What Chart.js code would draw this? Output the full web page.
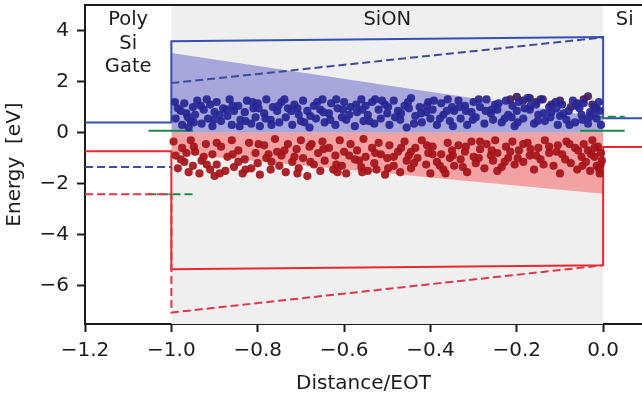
<!DOCTYPE html>
<html>
<head>
<meta charset="utf-8">
<script src="https://cdn.jsdelivr.net/npm/chart.js@4"></script>
<style>
html, body { margin: 0; padding: 0; background: #fff; }
</style>
</head>
<body>
<canvas id="myChart" width="642" height="396"></canvas>
<script>
// axis ticks
const xTicks = [-1.2, -1.0, -0.8, -0.6, -0.4, -0.2, 0.0];
const xTickLabels = ['\u22121.2', '\u22121.0', '\u22120.8', '\u22120.6', '\u22120.4', '\u22120.2', '0.0'];
const yTicks = [-6, -4, -2, 0, 2, 4];
const yTickLabels = ['\u22126', '\u22124', '\u22122', '0', '2', '4'];

// band edges (eV) along distance/EOT
const oxideRegion = [[-1.0, 5], [0.0, 5]];
const condBand = [[-1.2, 0.4], [-1.0, 0.4], [-1.0, 3.58], [0.0, 3.75], [0.0, 0.56], [0.09, 0.56]];
const valBand = [[-1.2, -0.73], [-1.0, -0.73], [-1.0, -5.35], [0.0, -5.2], [0.0, -0.56], [0.09, -0.56]];
const condGate = [[-1.2, -1.35], [-1.0, -1.35]];
const condShift = [[-1.0, 1.94], [0.0, 3.73]];
const valShift = [[-1.2, -2.42], [-1.0, -2.42], [-1.0, -7.05], [0.0, -5.2]];
const fermiGate = [[-1.053, 0.07], [-0.95, 0.07]];
const fermiSub = [[-0.053, 0.07], [0.05, 0.07]];
const fermiGateShift = [[-1.053, -2.42], [-0.95, -2.42]];
const fermiSubShift = [[-0.045, 0.62], [0.05, 0.62]];
const electronWindow = [[-1.0, 3.12], [0.0, 0.58]];
const holeWindow = [[-1.0, -0.8], [0.0, -2.4]];

// trap levels
const electronTraps = [
  [-0.99,0.55],[-0.985,0.95],[-0.975,0.3],[-0.97,1.15],[-0.965,0.75],[-0.955,0.45],[-0.95,1.0],[-0.96,0.2],
  [-0.945,0.7],[-0.94,1.25],[-0.93,0.35],[-0.925,0.9],[-0.915,0.55],[-0.91,1.1],[-0.905,0.25],[-0.9,0.8],
  [-0.895,1.2],[-0.885,0.45],[-0.88,0.95],[-0.87,0.65],[-0.865,1.3],[-0.86,0.3],[-0.855,0.85],
  [-0.845,1.05],[-0.84,0.5],[-0.83,0.8],[-0.825,1.25],[-0.815,0.35],[-0.81,0.95],[-0.805,0.6],[-0.8,1.15],
  [-0.795,0.25],[-0.785,0.75],[-0.78,1.3],[-0.77,0.5],[-0.765,1.0],[-0.755,0.85],[-0.75,0.4],
  [-0.745,1.2],[-0.735,0.6],[-0.73,0.95],[-0.72,0.3],[-0.715,1.1],[-0.705,0.7],[-0.7,0.45],
  [-0.695,1.25],[-0.685,0.85],[-0.68,0.2],[-0.67,1.05],[-0.665,0.55],[-0.655,0.9],[-0.65,1.3],
  [-0.645,0.4],[-0.635,0.75],[-0.63,1.15],[-0.62,0.3],[-0.615,0.95],[-0.605,0.6],[-0.6,1.2],
  [-0.595,0.5],[-0.585,1.0],[-0.575,0.25],[-0.57,0.8],[-0.56,1.3],[-0.555,0.45],[-0.55,1.05],
  [-0.545,0.7],[-0.535,1.2],[-0.53,0.35],[-0.52,0.9],[-0.515,0.55],[-0.505,1.1],[-0.5,0.75],
  [-0.495,0.3],[-0.485,1.25],[-0.475,0.85],[-0.47,0.5],[-0.46,1.05],[-0.455,0.2],[-0.45,0.95],
  [-0.445,1.35],[-0.435,0.65],[-0.425,1.0],[-0.42,0.4],[-0.41,0.8],[-0.405,1.2],[-0.4,0.55],
  [-0.395,0.9],[-0.385,0.3],[-0.375,1.15],[-0.37,0.7],[-0.36,1.3],[-0.355,0.45],[-0.35,1.0],
  [-0.345,0.85],[-0.335,1.25],[-0.33,0.55],[-0.32,1.05],[-0.315,0.3],[-0.305,0.8],[-0.3,1.2],
  [-0.295,0.6],[-0.285,1.0],[-0.275,0.35],[-0.27,1.3],[-0.26,0.75],[-0.255,0.5],[-0.25,1.1],
  [-0.245,0.9],[-0.235,0.4],[-0.225,1.25],[-0.22,0.7],[-0.21,1.05],[-0.205,0.25],[-0.2,0.85],
  [-0.195,1.2],[-0.185,0.55],[-0.175,1.35],[-0.17,0.9],[-0.16,0.35],[-0.155,1.1],[-0.15,0.7],
  [-0.145,1.3],[-0.135,0.45],[-0.125,1.0],[-0.12,0.8],[-0.11,1.2],[-0.105,0.3],[-0.1,0.65],
  [-0.095,1.1],[-0.085,0.5],[-0.08,0.85],[-0.07,1.25],[-0.065,0.4],[-0.055,0.95],[-0.05,0.7],
  [-0.045,1.15],[-0.035,0.35],[-0.03,0.8],[-0.02,1.0],[-0.015,0.55],[-0.01,1.2],[-0.005,0.3],
  [-0.978,0.85],[-0.948,0.4],[-0.918,1.3],[-0.888,0.7],[-0.858,1.05],[-0.828,0.45],[-0.798,0.95],
  [-0.768,0.3],[-0.738,1.3],[-0.708,0.95],[-0.678,0.65],[-0.648,0.8],[-0.618,1.3],[-0.588,0.7],
  [-0.558,0.9],[-0.528,1.3],[-0.498,1.0],[-0.468,0.75],[-0.438,0.35],[-0.408,1.05],[-0.378,0.55],
  [-0.348,0.25],[-0.318,0.85],[-0.288,1.3],[-0.258,0.9],[-0.228,0.55],[-0.198,0.4],[-0.168,1.05],
  [-0.138,0.75],[-0.108,0.95],[-0.078,0.3],[-0.048,0.5],[-0.022,0.75],
  [-0.992,1.2],[-0.962,0.6],[-0.932,1.05],[-0.902,0.5],[-0.872,0.9],[-0.842,0.25],[-0.812,1.2],
  [-0.782,0.55],[-0.752,1.05],[-0.722,0.85],[-0.692,0.4],[-0.662,1.2],[-0.632,0.5],[-0.602,0.9],
  [-0.572,1.1],[-0.542,0.45],[-0.512,1.25],[-0.482,0.6],[-0.452,1.2],[-0.422,0.75],[-0.392,1.25],
  [-0.362,0.85],[-0.332,1.0],[-0.302,0.5],[-0.272,0.85],[-0.242,1.15],[-0.212,0.6],[-0.182,0.95],
  [-0.152,0.45],[-0.122,0.6],[-0.092,0.75],[-0.062,1.05],[-0.032,0.6],[-0.008,0.85]
];
const mixedTraps = [
  [-0.215,1.3],[-0.2,1.4],[-0.185,1.25],[-0.17,1.35],[-0.155,1.2],[-0.14,1.3],[-0.12,1.1],
  [-0.1,1.25],[-0.075,1.0],[-0.06,1.15],[-0.045,1.3],[-0.035,1.42],[-0.025,1.1],[-0.015,0.95]
];
const holeTraps = [
  [-0.995,-0.35],[-0.99,-0.9],[-0.985,-1.4],[-0.975,-0.6],[-0.97,-1.15],[-0.96,-1.55],[-0.955,-0.3],[-0.95,-1.3],
  [-0.945,-0.75],[-0.935,-1.6],[-0.93,-1.1],[-0.92,-0.45],[-0.91,-1.45],[-0.905,-0.85],[-0.9,-1.7],
  [-0.895,-1.25],[-0.885,-0.55],[-0.875,-1.5],[-0.87,-0.95],[-0.86,-0.3],[-0.855,-1.35],
  [-0.845,-0.7],[-0.835,-1.6],[-0.83,-1.05],[-0.82,-0.4],[-0.815,-1.4],[-0.805,-0.8],[-0.8,-1.2],
  [-0.795,-1.65],[-0.785,-0.5],[-0.78,-1.0],[-0.77,-1.45],[-0.76,-0.25],[-0.755,-0.75],[-0.75,-1.3],
  [-0.745,-0.9],[-0.735,-1.55],[-0.73,-0.45],[-0.72,-1.15],[-0.71,-0.65],[-0.705,-1.4],[-0.7,-0.3],
  [-0.695,-1.0],[-0.685,-1.7],[-0.68,-0.55],[-0.67,-1.25],[-0.66,-0.8],[-0.655,-1.5],[-0.65,-0.35],
  [-0.645,-1.1],[-0.635,-0.6],[-0.625,-1.45],[-0.62,-0.9],[-0.61,-0.3],[-0.605,-1.3],[-0.6,-0.75],
  [-0.595,-1.6],[-0.585,-0.45],[-0.575,-1.05],[-0.57,-0.7],[-0.56,-1.35],[-0.555,-0.25],[-0.55,-0.95],
  [-0.545,-1.5],[-0.535,-0.6],[-0.53,-1.2],[-0.52,-0.4],[-0.515,-0.85],[-0.505,-1.65],[-0.5,-1.0],
  [-0.495,-0.5],[-0.485,-1.3],[-0.475,-0.75],[-0.47,-1.55],[-0.46,-0.35],[-0.455,-1.1],[-0.45,-0.9],
  [-0.445,-1.4],[-0.435,-0.6],[-0.43,-1.0],[-0.42,-0.3],[-0.41,-1.25],[-0.405,-0.8],[-0.4,-1.6],
  [-0.395,-0.55],[-0.385,-1.15],[-0.375,-0.85],[-0.37,-1.45],[-0.36,-0.4],[-0.355,-1.0],[-0.35,-0.7],
  [-0.345,-1.3],[-0.335,-0.5],[-0.33,-1.05],[-0.32,-0.75],[-0.315,-1.55],[-0.305,-0.35],[-0.3,-0.95],
  [-0.295,-1.2],[-0.285,-0.65],[-0.275,-1.4],[-0.27,-0.45],[-0.26,-0.9],[-0.255,-1.1],[-0.25,-0.3],
  [-0.245,-0.8],[-0.235,-1.35],[-0.225,-0.55],[-0.22,-1.0],[-0.21,-0.35],[-0.205,-1.25],
  [-0.195,-0.7],[-0.185,-1.15],[-0.175,-0.4],[-0.17,-0.9],[-0.16,-1.45],[-0.15,-0.6],
  [-0.145,-1.05],[-0.135,-0.3],[-0.125,-0.8],[-0.115,-1.3],[-0.105,-0.5],[-0.1,-1.6],
  [-0.095,-0.85],[-0.085,-0.35],[-0.075,-1.2],[-0.065,-0.6],[-0.06,-1.45],[-0.05,-0.95],
  [-0.045,-0.45],[-0.04,-1.15],[-0.035,-0.7],[-0.03,-1.5],[-0.025,-0.3],[-0.02,-0.95],[-0.015,-1.3],
  [-0.012,-0.55],[-0.008,-1.6],[-0.005,-0.8],[-0.003,-1.1],
  [-0.978,-1.05],[-0.948,-0.55],[-0.918,-1.25],[-0.888,-1.6],[-0.858,-0.85],[-0.828,-1.45],[-0.798,-0.45],
  [-0.768,-1.15],[-0.738,-0.7],[-0.708,-1.6],[-0.678,-1.15],[-0.648,-0.65],[-0.618,-1.25],[-0.588,-0.9],
  [-0.558,-1.55],[-0.528,-0.8],[-0.498,-1.4],[-0.468,-0.6],[-0.438,-1.2],[-0.408,-0.5],[-0.378,-1.3],
  [-0.348,-0.9],[-0.318,-0.55],[-0.288,-1.0],[-0.258,-0.7],[-0.228,-1.15],[-0.198,-1.0],[-0.168,-0.65],
  [-0.138,-1.25],[-0.108,-0.75],[-0.078,-0.45],[-0.048,-1.3],[-0.028,-0.85],[-0.01,-1.4],
  [-0.965,-0.8],[-0.925,-0.95],[-0.895,-0.4],[-0.845,-1.15],[-0.775,-0.85],[-0.715,-0.95],[-0.675,-0.45],
  [-0.615,-1.55],[-0.565,-1.1],[-0.525,-1.45],[-0.485,-0.95],[-0.445,-0.75],[-0.395,-0.85],[-0.365,-1.6],
  [-0.325,-1.35],[-0.285,-0.35],[-0.245,-1.5],[-0.215,-0.75],[-0.185,-0.45],[-0.155,-0.9],[-0.125,-0.55],
  [-0.088,-1.05],[-0.058,-0.7],[-0.02,-0.6],[-0.006,-1.25]
];

const FONT = "'DejaVu Sans', sans-serif";
const TEXT = '#1c1c1c';

function pts(arr) {
  return arr.map(p => ({ x: p[0], y: p[1] }));
}

function line(data, color, dash, order) {
  return {
    data: pts(data), showLine: true, borderColor: color, borderWidth: 2,
    borderDash: dash || [], pointRadius: 0, fill: false, order: order || 5
  };
}

function dots(data, color) {
  return {
    data: pts(data), showLine: false, pointRadius: 4.1, pointBorderWidth: 0,
    backgroundColor: color, borderColor: color, order: 1
  };
}

// no extra label padding around the plot box
function noPad(s) {
  s.paddingTop = 0;
  s.paddingBottom = 0;
  s.paddingLeft = 0;
  s.paddingRight = 0;
}

// region labels and top spine
const decor = {
  id: 'decor',
  afterDraw(chart) {
    const ctx = chart.ctx;
    const xs = chart.scales.x;
    const area = chart.chartArea;
    ctx.save();
    ctx.strokeStyle = '#1c1c1c';
    ctx.lineWidth = 2;
    ctx.beginPath();
    ctx.moveTo(area.left - 1, area.top);
    ctx.lineTo(chart.width, area.top);
    ctx.stroke();

    ctx.fillStyle = TEXT;
    ctx.font = '19.5px ' + FONT;
    ctx.textAlign = 'center';
    ctx.textBaseline = 'middle';
    const gx = xs.getPixelForValue(-1.1);
    ctx.fillText('Poly', gx, area.top + 15);
    ctx.fillText('Si', gx, area.top + 39);
    ctx.fillText('Gate', gx, area.top + 62);
    ctx.fillText('SiON', xs.getPixelForValue(-0.5), area.top + 15);
    ctx.fillText('Si', xs.getPixelForValue(0.05), area.top + 15);
    ctx.restore();
  }
};

const ctx = document.getElementById('myChart');
const myChart = new Chart(ctx, {
  type: 'scatter',
  data: {
    datasets: [
      { data: pts(oxideRegion), showLine: true, borderWidth: 0, pointRadius: 0,
        fill: 'start', backgroundColor: '#efefef', order: 20 },
      { data: pts(electronWindow), showLine: true, borderWidth: 0, pointRadius: 0,
        fill: 'origin', backgroundColor: 'rgba(95, 95, 200, 0.5)', order: 15 },
      { data: pts(holeWindow), showLine: true, borderWidth: 0, pointRadius: 0,
        fill: 'origin', backgroundColor: 'rgba(245, 85, 85, 0.5)', order: 15 },
      line(condGate, '#3d4a9e', [8, 4]),
      line(condShift, '#3d4a9e', [8, 4]),
      line(valShift, '#e0364a', [8, 4]),
      line(fermiGateShift, '#1f8a45', [8, 4]),
      line(fermiSubShift, '#1f8a45', [8, 4]),
      line(condBand, '#3550b4'),
      line(valBand, '#e8282e'),
      line(fermiGate, '#1f8a45'),
      line(fermiSub, '#1f8a45'),
      dots(electronTraps, 'rgba(38, 38, 150, 0.92)'),
      dots(mixedTraps, 'rgba(68, 28, 96, 0.92)'),
      dots(holeTraps, 'rgba(165, 18, 24, 0.92)')
    ]
  },
  options: {
    responsive: false,
    animation: false,
    devicePixelRatio: 1,
    layout: { autoPadding: false, padding: { top: 5, right: 0, left: 0, bottom: 0 } },
    plugins: { legend: { display: false }, tooltip: { enabled: false } },
    scales: {
      x: {
        type: 'linear', min: -1.2, max: 0.09,
        afterBuildTicks: s => { s.ticks = xTicks.map(v => ({ value: v })); },
        afterFit: s => { s.height = 72; noPad(s); },
        ticks: {
          callback: (v, i) => xTickLabels[i],
          color: TEXT, font: { family: FONT, size: 20 }, padding: 7,
          maxRotation: 0, autoSkip: false
        },
        grid: { display: true, drawOnChartArea: false, tickLength: 8, tickWidth: 2, tickColor: '#1c1c1c' },
        border: { display: true, color: '#1c1c1c', width: 2 },
        title: { display: true, text: 'Distance/EOT', color: TEXT, font: { family: FONT, size: 20 }, padding: { top: 4, bottom: 0 } }
      },
      y: {
        type: 'linear', min: -7.5, max: 5,
        afterBuildTicks: s => { s.ticks = yTicks.map(v => ({ value: v })); },
        afterFit: s => { s.width = 85; noPad(s); },
        ticks: {
          callback: (v, i) => yTickLabels[i],
          color: TEXT, font: { family: FONT, size: 20 }, padding: 8, autoSkip: false
        },
        grid: { display: true, drawOnChartArea: false, tickLength: 8, tickWidth: 2, tickColor: '#1c1c1c' },
        border: { display: true, color: '#1c1c1c', width: 2 },
        title: { display: true, text: 'Energy  [eV]', color: TEXT, font: { family: FONT, size: 20 }, padding: { top: 3, bottom: 0 } }
      }
    }
  },
  plugins: [decor]
});
</script>
</body>
</html>
